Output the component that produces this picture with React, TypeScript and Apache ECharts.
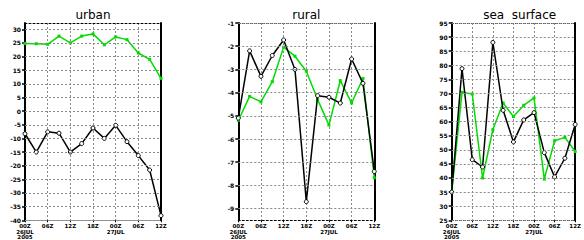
import React, { useEffect, useRef } from "react";
import * as echarts from "echarts";

const categories = [
  "00Z\n26JUL\n2005", "03Z", "06Z", "09Z", "12Z", "15Z", "18Z", "21Z",
  "00Z\n27JUL", "03Z", "06Z", "09Z", "12Z",
];

const titles = ["urban", "rural", "sea  surface"];

const urbanGreen = [24.8, 24.7, 24.5, 27.5, 25.0, 27.5, 28.3, 24.3, 27.2, 26.2, 21.3, 19.0, 12.0];
const urbanBlack = [-8.3, -15.0, -7.6, -8.1, -15.0, -11.9, -6.2, -10.0, -5.2, -11.2, -16.3, -21.6, -38.3];

const ruralGreen = [-5.2, -4.16, -4.4, -3.53, -2.04, -2.43, -3.08, -4.3, -5.4, -3.48, -4.45, -3.39, -7.67];
const ruralBlack = [-5.1, -2.2, -3.3, -2.4, -1.73, -3.0, -8.7, -4.13, -4.2, -4.45, -2.55, -3.6, -7.4];

const seaGreen = [35, 70.4, 69.8, 40, 57.2, 66.6, 61.8, 65.8, 68.4, 39.6, 53.2, 54.4, 49.4];
const seaBlack = [35, 78.8, 46.5, 43.9, 88.1, 64, 52.8, 60.6, 63.2, 49, 40.4, 47, 59];

const urbanTicks = [-40, -35, -30, -25, -20, -15, -10, -5, 0, 5, 10, 15, 20, 25, 30];
const ruralTicks = [-9, -8, -7, -6, -5, -4, -3, -2, -1];
const seaTicks = [25, 30, 35, 40, 45, 50, 55, 60, 65, 70, 75, 80, 85, 90, 95];

const ranges = [
  [-40, 32.3],
  [-9.5, -1],
  [25, 95],
];

export default function App() {
  const ref = useRef<HTMLDivElement>(null);
  useEffect(() => {
    if (!ref.current) return;
    const chart = echarts.init(ref.current, null, { renderer: "svg" });
    const lefts = [25, 238.3, 451.7];
    const W = 136;
    const TOP = 23;
    const H = 202;
    const tickSets = [urbanTicks, ruralTicks, seaTicks];
    const greens = [urbanGreen, ruralGreen, seaGreen];
    const blacks = [urbanBlack, ruralBlack, seaBlack];
    const gridColor = "#8a8a8a";
    const font = "DejaVu Sans";

    const grid: any[] = [];
    const xAxis: any[] = [];
    const yAxis: any[] = [];
    const series: any[] = [];
    const graphic: any[] = [];

    for (let p = 0; p < 3; p++) {
      grid.push({ left: lefts[p], top: TOP, width: W, height: H, containLabel: false });
      xAxis.push({
        type: "category",
        gridIndex: p,
        data: categories,
        boundaryGap: false,
        position: "bottom",
        axisLine: { show: true, onZero: false, lineStyle: { color: "#000", width: 1, type: [2, 2] } },
        axisTick: { show: true, interval: 1, length: 2, lineStyle: { color: "#000" } },
        axisLabel: {
          interval: 1,
          fontSize: 5.5,
          fontWeight: "bold",
          fontFamily: font,
          color: "#000",
          lineHeight: 5.5,
          margin: 3,
        },
        splitLine: { show: true, interval: 1, lineStyle: { color: gridColor, width: 1, type: [2, 2] } },
      });
      xAxis.push({
        type: "category",
        gridIndex: p,
        data: categories,
        boundaryGap: false,
        position: "top",
        axisLine: { show: true, onZero: false, lineStyle: { color: "#000", width: 1, type: [2, 2] } },
        axisTick: { show: false },
        axisLabel: { show: false },
        splitLine: { show: false },
      });
      yAxis.push({
        type: "value",
        gridIndex: p,
        min: ranges[p][0],
        max: ranges[p][1],
        position: "left",
        axisLine: { show: true, onZero: false, lineStyle: { color: "#000", width: 2 } },
        axisTick: { show: true, length: 3, customValues: tickSets[p], lineStyle: { color: "#000", width: 1.5 } },
        axisLabel: {
          customValues: tickSets[p],
          fontSize: 6,
          fontWeight: "bold",
          fontFamily: font,
          color: "#000",
          margin: 4,
        },
        splitLine: { show: false },
      });
      yAxis.push({
        type: "value",
        gridIndex: p,
        min: ranges[p][0],
        max: ranges[p][1],
        position: "right",
        axisLine: { show: true, onZero: false, lineStyle: { color: "#000", width: 2 } },
        axisTick: { show: false },
        axisLabel: { show: false },
        splitLine: { show: false },
      });
      // horizontal dotted grid lines at the tick values
      series.push({
        type: "line",
        xAxisIndex: p * 2,
        yAxisIndex: p * 2,
        data: [],
        silent: true,
        z: 1,
        markLine: {
          silent: true,
          symbol: ["none", "none"],
          label: { show: false },
          lineStyle: { color: gridColor, width: 1, type: [2, 2] },
          emphasis: { disabled: true },
          data: tickSets[p].map((v) => ({ yAxis: v })),
        },
      });
      series.push({
        type: "line",
        xAxisIndex: p * 2,
        yAxisIndex: p * 2,
        data: greens[p],
        symbol: "rect",
        symbolSize: 3,
        lineStyle: { color: "#00dc00", width: 1.5 },
        itemStyle: { color: "#00dc00" },
        z: 3,
      });
      series.push({
        type: "line",
        xAxisIndex: p * 2,
        yAxisIndex: p * 2,
        data: blacks[p],
        symbol: "circle",
        symbolSize: 4,
        lineStyle: { color: "#000", width: 1.5 },
        itemStyle: { color: "#fff", borderColor: "#000", borderWidth: 1 },
        z: 4,
      });
      graphic.push({
        type: "text",
        x: lefts[p] + W / 2,
        y: 15,
        style: {
          text: titles[p],
          fontSize: 12,
          fontFamily: font,
          fill: "#000",
          textAlign: "center",
          textVerticalAlign: "middle",
        },
      });
    }

    chart.setOption({
      animation: false,
      backgroundColor: "#fff",
      grid,
      xAxis,
      yAxis,
      series,
      graphic,
    });
    return () => chart.dispose();
  }, []);

  return (
    <div
      ref={ref}
      style={{ position: "absolute", left: 0, top: 0, width: 584, height: 240, overflow: "hidden" }}
    />
  );
}
